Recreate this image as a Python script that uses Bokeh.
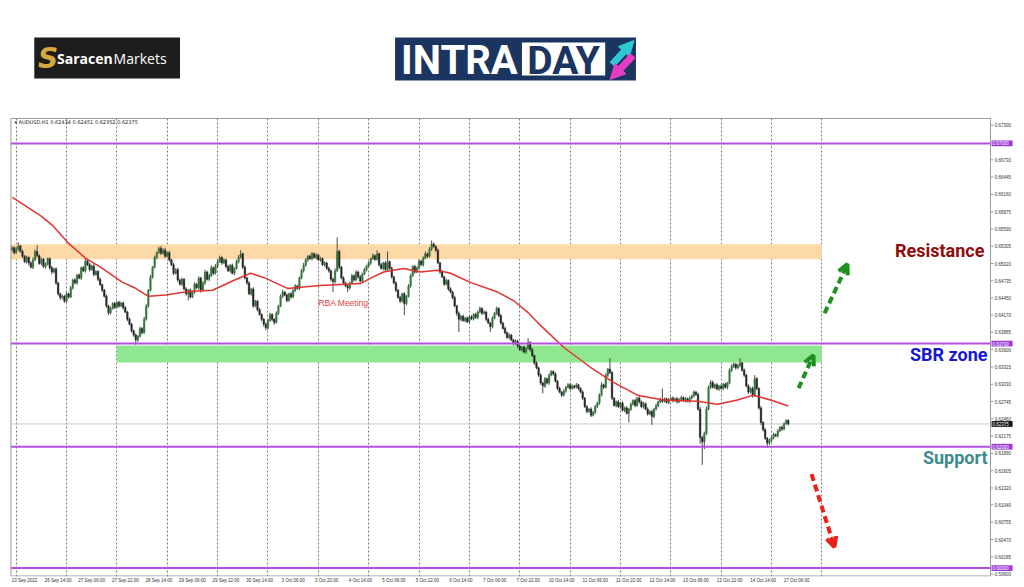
from bokeh.plotting import figure
from bokeh.models import Range1d, FixedTicker, Label, Arrow, OpenHead, NormalHead, ColumnDataSource
from bokeh.layouts import column
from bokeh.embed import file_html
from bokeh.resources import INLINE
from bokeh.core.properties import value

# ---------------- data (AUDUSD H1, prices in pips: 6530 = 0.6530) ----------------
first_open = 6524
close_pips = [
    6528,6520,6526,6531,6522,6514,6505,6512,6503,6496,6508,6522,6515,6502,6509,6497,6501,6510,6495,6488,6493,6470,6452,6446,
    6448,6440,6452,6447,6462,6475,6470,6483,6478,6495,6490,6506,6500,6492,6498,6484,6489,6476,6467,6458,6448,6432,6421,6428,
    6436,6430,6438,6432,6437,6429,6422,6410,6402,6391,6384,6376,6382,6395,6388,6410,6432,6458,6480,6496,6512,6520,6527,6519,
    6524,6514,6520,6508,6500,6486,6492,6475,6468,6476,6460,6452,6458,6447,6455,6468,6462,6478,6458,6470,6488,6476,6482,6495,
    6486,6498,6505,6512,6503,6508,6497,6490,6499,6486,6494,6505,6512,6518,6496,6478,6470,6452,6460,6432,6440,6426,6418,6410,
    6402,6396,6408,6418,6410,6405,6420,6432,6448,6455,6450,6441,6452,6447,6458,6465,6461,6478,6490,6499,6508,6514,6510,6518,
    6512,6516,6508,6510,6500,6503,6494,6490,6476,6472,6490,6522,6496,6478,6470,6465,6462,6470,6482,6475,6488,6480,6473,6485,
    6492,6498,6503,6510,6515,6509,6518,6500,6494,6503,6492,6505,6494,6480,6470,6458,6446,6440,6452,6436,6448,6465,6482,6497,
    6488,6495,6506,6500,6511,6518,6514,6526,6534,6530,6524,6503,6488,6480,6468,6474,6460,6455,6446,6432,6420,6410,6415,6408,
    6412,6406,6414,6411,6418,6413,6422,6428,6420,6422,6410,6404,6398,6412,6420,6428,6416,6404,6395,6388,6380,6384,6376,6370,
    6374,6366,6360,6364,6356,6362,6372,6360,6350,6338,6330,6318,6305,6300,6312,6305,6318,6324,6320,6308,6296,6290,6285,6292,
    6298,6302,6296,6300,6298,6302,6296,6290,6280,6266,6258,6262,6252,6257,6266,6272,6285,6302,6298,6318,6328,6322,6280,6268,
    6274,6266,6272,6260,6264,6255,6262,6270,6276,6268,6280,6274,6266,6271,6262,6254,6258,6250,6262,6268,6274,6278,6275,6279,
    6273,6277,6280,6276,6279,6274,6278,6281,6276,6279,6275,6280,6284,6290,6286,6262,6215,6208,6222,6262,6298,6306,6298,6302,
    6295,6300,6296,6303,6298,6305,6326,6332,6336,6330,6334,6338,6326,6318,6300,6290,6296,6284,6312,6296,6264,6240,6228,6214,
    6206,6210,6215,6220,6218,6226,6232,6229,6238,6243.4,6237.5,
]
wick_up = [
    3,2,4,6,2,3,2,3,2,3,4,3,10,2,3,2,3,2,2,3,2,3,2,2,
    3,2,3,2,3,2,3,2,3,2,3,4,2,3,2,3,2,2,3,2,2,3,2,3,
    2,3,2,3,2,2,3,2,3,2,2,3,2,3,2,4,3,2,3,2,3,2,3,4,
    3,4,2,3,2,3,2,3,2,3,2,3,2,3,2,3,2,3,2,3,4,2,3,4,
    2,3,4,3,2,3,2,3,2,3,2,3,4,6,2,3,2,3,2,3,2,2,3,2,
    2,3,2,3,2,2,3,2,3,4,2,3,2,3,2,3,2,3,3,4,3,2,3,3,
    2,3,2,3,2,3,2,3,2,3,4,23,3,2,3,2,3,2,3,2,3,2,3,2,
    3,2,3,2,4,2,6,2,3,2,3,17,2,3,2,3,2,3,2,3,2,3,3,2,
    3,2,3,2,3,4,2,3,6,3,2,3,2,3,2,3,2,3,2,3,2,3,2,3,
    2,3,2,3,2,3,2,3,2,3,2,3,2,3,2,3,2,3,2,3,2,3,2,2,
    3,2,3,2,3,2,7,2,3,2,3,2,3,2,3,2,3,2,2,3,2,3,2,3,
    2,3,2,3,2,3,2,2,3,2,3,2,3,2,3,2,3,4,2,3,2,18,3,2,
    2,3,2,3,2,3,2,3,2,3,2,3,2,3,2,3,2,3,2,3,2,3,18,2,
    2,3,2,3,2,3,2,3,2,3,2,3,2,3,2,3,4,3,3,4,3,4,3,2,
    3,2,3,2,3,2,3,4,3,2,3,8,2,3,2,3,2,3,6,3,2,3,2,3,
    2,3,2,3,2,3,2,3,2,1.7,1.7,
]
wick_dn = [
    2,3,2,3,2,3,2,3,4,2,3,2,3,2,3,2,3,2,3,4,2,3,3,4,
    3,3,2,3,2,3,2,3,2,3,2,3,2,3,2,3,2,3,2,3,2,3,4,3,
    2,3,2,3,2,3,2,3,2,3,3,8,3,2,3,2,2,3,2,3,2,3,2,3,
    2,3,2,3,2,3,2,3,2,3,2,3,11,3,2,3,2,3,4,2,3,2,3,2,
    3,2,3,2,3,2,3,2,3,2,3,2,3,2,3,2,3,2,3,3,2,3,2,3,
    4,4,3,2,3,4,2,3,2,3,2,3,2,3,2,3,2,3,2,3,2,3,2,3,
    2,3,2,3,2,3,2,3,3,17,3,2,3,2,3,2,7,3,2,3,2,3,2,3,
    2,3,2,3,2,3,2,3,2,3,2,3,2,3,2,3,2,3,2,19,3,2,3,2,
    3,2,3,2,3,2,3,2,3,2,3,2,3,2,3,2,3,2,3,2,4,21,3,2,
    3,2,3,2,3,2,3,2,3,2,3,2,9,3,2,3,2,3,2,3,2,3,2,3,
    2,3,2,3,2,3,2,3,2,3,2,3,3,12,3,2,3,2,3,2,3,2,3,2,
    3,2,3,2,3,2,3,2,3,2,3,2,3,2,3,2,3,2,3,2,3,2,3,2,
    3,2,3,2,3,2,15,3,2,3,2,3,2,3,2,3,2,14,3,2,3,2,3,2,
    2,3,2,3,2,3,2,3,2,3,2,3,2,3,2,3,10,38,12,3,2,3,2,3,
    2,3,2,3,2,3,2,3,2,3,2,3,2,3,2,3,2,3,2,3,3,4,3,3,
    8,3,2,3,2,3,2,3,2,2,2.3,
]
# moving average (bar index, pips)
ma_bar = [0.2,13.6,19.3,26.5,35,42.2,52.7,57.9,65.1,73.2,84,95.6,105.6,113.7,120.8,131.3,137.5,147,166.1,
          170.9,177.1,186.6,194.7,202.8,209,218.5,231.4,239,245.7,251.9,262.9,275.7,286.7,298.1,310.5,
          326.7,336.3,345.8,353.4,361.5,370]
ma_pips = [6611,6581,6565,6537,6511,6496,6471,6463,6448,6450,6456,6458,6474,6486,6478,6461,6463,6466,6469,
           6478,6488,6494,6488,6491,6486,6471,6455,6441,6422,6400,6364,6331,6306,6285,6277,
           6275,6270,6277,6285,6277,6267]

date_bars = [0,16,32,48,64,80,96,112,128,144,160,176,192,208,224,240,256,272,288,304,320,336,352,368]
date_labels = ["23 Sep 2022","26 Sep 14:00","27 Sep 06:00","27 Sep 22:00","28 Sep 14:00","29 Sep 06:00",
               "29 Sep 22:00","30 Sep 14:00","3 Oct 06:00","3 Oct 22:00","4 Oct 14:00","5 Oct 06:00",
               "5 Oct 22:00","6 Oct 14:00","7 Oct 06:00","7 Oct 22:00","10 Oct 14:00","11 Oct 06:00",
               "11 Oct 22:00","12 Oct 14:00","13 Oct 06:00","13 Oct 22:00","14 Oct 14:00","17 Oct 06:00"]
day_separator_bars = [2,26,50,74,98,122,146,170,194,218,242,266,290,314,338,362,386]
price_ticks = [0.67300,0.66730,0.66445,0.66160,0.65875,0.65590,0.65305,0.65020,0.64735,0.64450,0.64170,
               0.63885,0.63600,0.63315,0.63030,0.62745,0.62460,0.62175,0.61890,0.61605,0.61320,0.61040,
               0.60755,0.60470,0.60185,0.59900]
levels = [0.67000, 0.63700, 0.62000, 0.60000]
current_price = 0.62375
resistance_zone = [-0.5, 386, 0.6509, 0.6534]   # bar from, bar to, low, high
sbr_zone = [50, 386, 0.6339, 0.6367]
header = "\u25be AUDUSD,H1  0.62434 0.62451 0.62352 0.62375"
# projection arrows: bar0, price0, bar1, price1
arrow_up_far = [387.3, 0.6420, 398.2, 0.6501]
arrow_up_near = [374.9, 0.62965, 382.0, 0.63508]
arrow_down = [381.1, 0.61548, 392.0, 0.60346]

# ---------------- layout constants (bar index / price space) ----------------
X_LEFT, X_AXIS = -0.5, 466.4            # chart border left, price-axis line
Y_TOP, Y_BOTTOM = 0.67412, 0.59868      # chart border top / bottom
TICK_LEN = 1.4                          # axis tick length in bars (~3px)
TAG_W, TAG_H = 10.0, 0.00095            # axis price-tag box size

# ---------------- derived candles ----------------
opens = [first_open] + close_pips[:-1]
xs = list(range(len(close_pips)))
tops = [max(o, c) / 1e4 for o, c in zip(opens, close_pips)]
bots = [min(o, c) / 1e4 for o, c in zip(opens, close_pips)]
highs = [max(o, c) / 1e4 + u / 1e4 for o, c, u in zip(opens, close_pips, wick_up)]
lows = [min(o, c) / 1e4 - d / 1e4 for o, c, d in zip(opens, close_pips, wick_dn)]
BULL, BEAR = "#35783a", "#262626"
cols = [BULL if c >= o else BEAR for o, c in zip(opens, close_pips)]
src = ColumnDataSource(dict(x=xs, top=tops, bottom=bots, high=highs, low=lows, color=cols))

# ---------------- top strip with logos (pixel coordinates) ----------------
t = figure(width=1024, height=117, x_range=Range1d(0, 1024), y_range=Range1d(117, 0),
           toolbar_location=None, output_backend="svg", min_border=0,
           x_axis_location=None, y_axis_location=None)
t.grid.visible = False
t.outline_line_color = None
t.quad(left=[25], right=[172], top=[37], bottom=[78], fill_color="#1d1d1d", line_color=None)
t.text(x=[39], y=[58], text=["S"], text_font=value("DejaVu Sans"), text_font_style="bold italic",
       text_font_size="28px", text_color="#d7a93c", text_align="center", text_baseline="middle")
t.text(x=[48], y=[58], text=["Saracen"], text_font=value("Open Sans"), text_font_style="bold",
       text_font_size="14px", text_color="white", text_align="left", text_baseline="middle")
t.text(x=[105], y=[58], text=["Markets"], text_font=value("Open Sans"),
       text_font_size="14px", text_color="white", text_align="left", text_baseline="middle")
t.quad(left=[389], right=[632], top=[37], bottom=[80], fill_color="#1a3560", line_color=None)
t.text(x=[395], y=[60], text=["INTRA"], text_font=value("Roboto"), text_font_style="bold",
       text_font_size="40px", text_color="white", text_align="left", text_baseline="middle")
t.quad(left=[517], right=[601], top=[42], bottom=[75], fill_color="white", line_color=None)
t.text(x=[559], y=[60], text=["DAY"], text_font=value("Roboto"), text_font_style="bold",
       text_font_size="39px", text_color="#1a3560", text_align="center", text_baseline="middle")
t.add_layout(Arrow(end=NormalHead(size=15, fill_color="#2fc8d4", line_color="#2fc8d4"),
                   x_start=608, y_start=64, x_end=630, y_end=40, line_color="#2fc8d4", line_width=7))
t.add_layout(Arrow(end=NormalHead(size=15, fill_color="#e83cc8", line_color="#e83cc8"),
                   x_start=629, y_start=55, x_end=606, y_end=79, line_color="#e83cc8", line_width=7))

# ---------------- main chart ----------------
p = figure(width=1024, height=469, x_range=Range1d(-1.19, 482.6), y_range=Range1d(0.59860, 0.67428),
           toolbar_location=None, output_backend="svg", y_axis_location=None,
           min_border_left=9, min_border_right=0, min_border_top=0, min_border_bottom=10)
p.outline_line_color = None
p.ygrid.grid_line_color = None
p.xgrid.ticker = FixedTicker(ticks=day_separator_bars)
p.xgrid.grid_line_color = "#7a7a7a"
p.xgrid.grid_line_dash = "2 2"
p.xgrid.grid_line_width = 1

p.xaxis.ticker = FixedTicker(ticks=[b + 6 for b in date_bars])
p.xaxis.major_label_overrides = {b + 6: s for b, s in zip(date_bars, date_labels)}
p.xaxis.axis_line_color = None
p.xaxis.major_tick_line_color = None
p.xaxis.major_tick_out = 0
p.xaxis.major_tick_in = 0
p.xaxis.minor_tick_line_color = None
p.xaxis.major_label_standoff = 1
p.xaxis.major_label_text_font_size = "4.5px"
p.xaxis.major_label_text_font = "Liberation Sans"
p.xaxis.major_label_text_color = "#333333"

# zones
p.quad(left=[resistance_zone[0]], right=[resistance_zone[1]], bottom=[resistance_zone[2]], top=[resistance_zone[3]],
       fill_color="#fdd9a7", line_color=None)
p.quad(left=[sbr_zone[0]], right=[sbr_zone[1]], bottom=[sbr_zone[2]], top=[sbr_zone[3]],
       fill_color="#8fe88f", line_color=None)
p.segment(x0=[X_LEFT], x1=[X_AXIS], y0=[current_price], y1=[current_price], line_color="#c9c9c9", line_width=1)

# candles
p.segment(x0="x", y0="low", x1="x", y1="high", source=src, line_color="#4a4a4a", line_width=1)
p.vbar(x="x", width=0.72, top="top", bottom="bottom", source=src, fill_color="color", line_color="color",
       line_width=0.5)
# moving average
p.line(ma_bar, [v / 1e4 for v in ma_pips], line_color="#e2332f", line_width=1.5)

# horizontal levels
p.segment(x0=[X_LEFT] * len(levels), x1=[X_AXIS] * len(levels), y0=levels, y1=levels,
          line_color="#b34fe0", line_width=2)

# chart border and price axis (line, ticks, labels)
p.multi_line(xs=[[X_LEFT, X_AXIS], [X_LEFT, X_AXIS], [X_LEFT, X_LEFT], [X_AXIS, X_AXIS]],
             ys=[[Y_TOP, Y_TOP], [Y_BOTTOM, Y_BOTTOM], [Y_BOTTOM, Y_TOP], [Y_BOTTOM, Y_TOP]],
             line_color="#9a9a9a", line_width=1)
p.segment(x0=[X_AXIS] * len(price_ticks), x1=[X_AXIS + TICK_LEN] * len(price_ticks),
          y0=price_ticks, y1=price_ticks, line_color="#9a9a9a", line_width=1)
p.text(x=[X_AXIS + TICK_LEN + 0.6] * len(price_ticks), y=price_ticks, text=[f"{v:.5f}" for v in price_ticks],
       text_font=value("Liberation Sans"), text_font_size="4.5px", text_color="#333333",
       text_align="left", text_baseline="middle")
# highlighted price tags on the axis
tag_prices = levels + [current_price]
tag_colors = ["#9b3ad6"] * len(levels) + ["#111111"]
p.quad(left=[X_AXIS + 0.5] * len(tag_prices), right=[X_AXIS + 0.5 + TAG_W] * len(tag_prices),
       bottom=[v - TAG_H / 2 for v in tag_prices], top=[v + TAG_H / 2 for v in tag_prices],
       fill_color=tag_colors, line_color=None)
p.text(x=[X_AXIS + 1.0] * len(tag_prices), y=tag_prices, text=[f"{v:.5f}" for v in tag_prices],
       text_font=value("Liberation Sans"), text_font_size="4.5px", text_color="white",
       text_align="left", text_baseline="middle")

# texts
p.add_layout(Label(x=1.2, y=0.67346, text=header, text_font_size="5px", text_color="#222222",
                   text_font="DejaVu Sans", text_baseline="middle"))
p.add_layout(Label(x=158, y=0.64365, text="RBA Meeting", text_font_size="8.5px", text_color="#e04040",
                   text_font="Liberation Sans", text_align="center", text_baseline="middle"))
p.add_layout(Label(x=463.5, y=0.65238, text="Resistance", text_font_size="18px", text_font_style="bold",
                   text_color="#8e0c0c", text_font="Roboto", text_align="right", text_baseline="middle"))
p.add_layout(Label(x=465, y=0.63525, text="SBR zone", text_font_size="18px", text_font_style="bold",
                   text_color="#1616d6", text_font="Roboto", text_align="right", text_baseline="middle"))
p.add_layout(Label(x=465, y=0.61828, text="Support", text_font_size="18px", text_font_style="bold",
                   text_color="#3c8c8c", text_font="Roboto", text_align="right", text_baseline="middle"))

# projection arrows
for arr, col in [(arrow_up_far, "#1f8f1f"), (arrow_up_near, "#1f8f1f"), (arrow_down, "#e8211b")]:
    p.add_layout(Arrow(end=OpenHead(size=10, line_color=col, line_width=4),
                       x_start=arr[0], y_start=arr[1], x_end=arr[2], y_end=arr[3],
                       line_color=col, line_width=4, line_dash="7 4"))

layout = column(t, p)
open("out.html", "w").write(file_html(layout, INLINE))
